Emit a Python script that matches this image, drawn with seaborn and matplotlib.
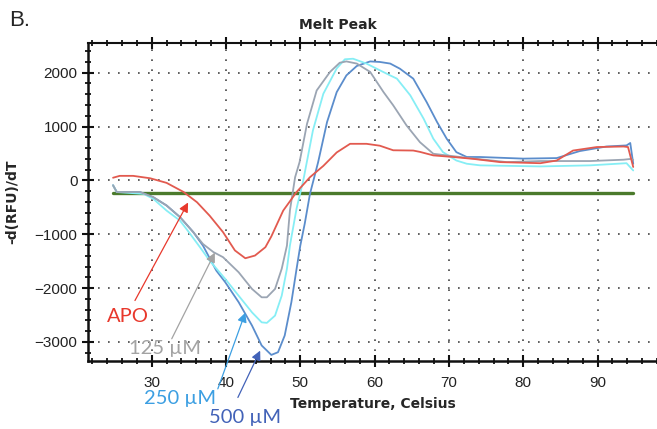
import numpy as np
import pandas as pd
import matplotlib
matplotlib.use("Agg")
import matplotlib.pyplot as plt
from matplotlib.ticker import MultipleLocator
import seaborn as sns

# ---- data ----
apo_t = [24.8, 25.7, 27.5, 29.8, 32.0, 34.3, 36.1, 37.8, 39.6, 41.2, 42.6, 43.9, 45.3,
         46.1, 47.7, 49.5, 51.3, 53.1, 54.9, 56.7, 58.9, 60.7, 62.5, 65.2, 66.1, 67.9,
         70.6, 73.3, 76.9, 82.3, 84.5, 86.7, 89.9, 93.5, 94.1, 94.8]
apo_v = [50, 85, 85, 40, -45, -215, -405, -655, -960, -1300, -1445, -1395, -1240,
         -1040, -560, -215, 60, 270, 520, 680, 680, 645, 560, 555, 530, 465,
         435, 400, 340, 320, 370, 555, 620, 630, 620, 250]

g125_t = [24.8, 25.3, 28.4, 30.2, 32.0, 33.8, 35.6, 36.9, 38.3, 39.6, 41.7, 43.5, 44.8, 45.5,
          46.6, 47.5, 48.2, 48.6, 49.3, 49.9, 50.9, 52.2, 54.0, 55.3, 56.2, 57.6, 59.4, 61.2,
          62.5, 64.3, 66.1, 67.9, 69.7, 72.4, 77.8, 82.3, 89.0, 93.5, 94.5, 94.8]
g125_v = [-90, -215, -215, -310, -465, -680, -960, -1180, -1330, -1425, -1705, -2015, -2170, -2170,
          -2015, -1640, -1210, -560, 60, 340, 1050, 1670, 2015, 2185, 2210, 2170, 2015, 1640,
          1395, 1020, 710, 495, 465, 420, 340, 360, 360, 385, 400, 380]

c250_t = [24.8, 25.3, 28.9, 30.2, 32.0, 33.8, 35.0, 36.5, 37.8, 39.9, 41.7, 43.5, 44.8, 45.5,
          46.6, 47.5, 48.2, 48.6, 49.5, 50.4, 51.7, 53.1, 54.9, 56.0, 57.1, 58.9, 60.7, 62.1,
          63.0, 64.8, 66.6, 67.9, 69.2, 71.0, 72.4, 74.2, 82.3, 89.0, 93.9, 94.8]
c250_v = [-90, -215, -250, -340, -560, -745, -960, -1240, -1490, -1830, -2140, -2450, -2635, -2645,
          -2510, -2140, -1640, -1210, -520, 0, 930, 1610, 2080, 2250, 2260, 2170, 2045, 1950,
          1890, 1580, 1145, 775, 525, 370, 310, 280, 260, 280, 320, 185]

b500_t = [24.8, 25.3, 28.4, 30.2, 32.0, 33.8, 35.6, 36.9, 38.7, 39.9, 41.7, 43.5, 44.8, 46.1,
          47.0, 47.9, 48.8, 49.5, 50.0, 50.6, 51.3, 52.4, 53.6, 54.9, 56.2, 57.6, 59.4, 60.7,
          62.1, 63.4, 65.2, 67.0, 68.4, 69.7, 71.0, 72.4, 74.2, 80.0, 84.5, 87.6, 91.2, 93.9,
          94.4, 94.8]
b500_v = [-90, -215, -215, -310, -465, -680, -960, -1210, -1675, -1890, -2260, -2695, -3065, -3240,
          -3190, -2880, -2260, -1640, -1210, -800, -250, 340, 1085, 1640, 1950, 2125, 2210, 2200,
          2170, 2075, 1890, 1455, 1085, 775, 525, 435, 435, 405, 415, 545, 630, 650,
          695, 310]

base_t = [24.8, 94.8]
base_v = [-225, -225]

series_names = ["APO", "125 µM", "250 µM", "500 µM"]
series_colors = ["#e25a4f", "#9ba5b3", "#86eef5", "#5b8dcc"]

frames = []
for name, t, v in zip(series_names, [apo_t, g125_t, c250_t, b500_t],
                      [apo_v, g125_v, c250_v, b500_v]):
    frames.append(pd.DataFrame({"T": t, "V": v, "series": name}))
df = pd.concat(frames, ignore_index=True)
base_df = pd.DataFrame({"T": base_t, "V": base_v})

# ---- figure ----
sns.set_style("white")
plt.rcParams["font.family"] = ["Liberation Sans", "DejaVu Sans"]

fig = plt.figure(figsize=(6.57, 4.29), dpi=100)
ax = fig.add_axes([88 / 657, 1 - 361 / 429, 1 - 88 / 657, (361 - 43) / 429])

sns.lineplot(data=base_df, x="T", y="V", color="#4b7a2c", linewidth=2.4, ax=ax,
             estimator=None, sort=False)
sns.lineplot(data=df, x="T", y="V", hue="series", palette=dict(zip(series_names, series_colors)),
             hue_order=["500 µM", "250 µM", "125 µM", "APO"],
             linewidth=1.3, estimator=None, sort=False, legend=False, ax=ax)

ax.set_xlim(21.43, 98.0)
ax.set_ylim(-3353, 2552)
ax.xaxis.set_major_locator(MultipleLocator(10))
ax.xaxis.set_minor_locator(MultipleLocator(2))
ax.yaxis.set_major_locator(MultipleLocator(1000))
ax.yaxis.set_minor_locator(MultipleLocator(200))
ax.set_xticks(np.arange(30, 91, 10))

ax.grid(which="major", color="#444444", linestyle=(0, (1, 5)), linewidth=1.2)
for s in ["left", "bottom", "top"]:
    ax.spines[s].set_visible(True)
    ax.spines[s].set_color("#111111")
ax.spines["left"].set_linewidth(1.8)
ax.spines["bottom"].set_linewidth(1.8)
ax.spines["top"].set_linewidth(1.5)
ax.spines["right"].set_visible(False)

ax.tick_params(axis="both", which="major", direction="inout", length=8, width=1.5,
               labelsize=11, colors="#111111", labelcolor="#222222")
ax.tick_params(axis="both", which="minor", direction="inout", length=5, width=1.3, colors="#111111")
ax.tick_params(axis="x", which="both", top=True, bottom=True)
ax.tick_params(axis="y", which="both", left=True)
ax.tick_params(axis="x", which="major", pad=7)

ax.set_xlabel("Temperature, Celsius", fontsize=10, fontweight="bold",
              family=["DejaVu Sans"], labelpad=5)
ax.set_ylabel("-d(RFU)/dT", fontsize=10, fontweight="bold", family=["DejaVu Sans"], labelpad=11)

fig.text(338 / 657, 1 - 25 / 429, "Melt Peak", ha="center", va="center",
         fontsize=10, fontweight="bold", family=["DejaVu Sans"])
fig.text(9 / 657, 1 - 21 / 429, "B.", ha="left", va="center", fontsize=16)

# ---- annotations ----
ann = [
    ("APO", "#e8382c", (26.8, -2530), (27.75, -2230), (34.9, -410)),
    ("125 µM", "#a3a3a3", (31.8, -3120), (32.7, -2940), (38.5, -1340)),
    ("250 µM", "#3c9fe2", (33.8, -4050), (38.9, -3870), (42.6, -2455)),
    ("500 µM", "#4262b8", (42.6, -4405), (41.6, -4030), (44.6, -3160)),
]
for label, col, tpos, tail, head in ann:
    ax.text(tpos[0], tpos[1], label, color=col, fontsize=14.5, ha="center", va="center",
            family=["Lato", "DejaVu Sans"], clip_on=False)
    ax.annotate("", xy=head, xytext=tail, annotation_clip=False,
                arrowprops=dict(arrowstyle="-|>", color=col, lw=0.9, mutation_scale=14,
                                shrinkA=0, shrinkB=0))

fig.savefig("out.png", dpi=100)
